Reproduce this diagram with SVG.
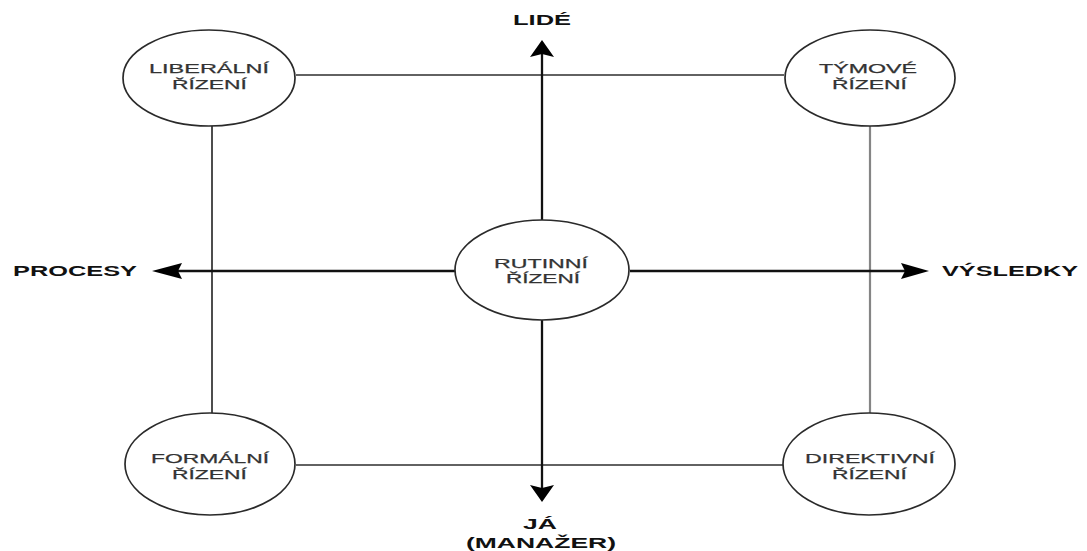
<svg xmlns="http://www.w3.org/2000/svg" width="1087" height="551" viewBox="0 0 1087 551">
  <style>
    .node ellipse { fill: #ffffff; stroke: #2a2a2a; stroke-width: 1.7; }
    .node text { font-family: "Liberation Sans", Arial, sans-serif; font-size: 13.5px; fill: #333333; stroke: #333333; stroke-width: 0.25; text-anchor: middle; }
    .link { fill: none; stroke: #2e2e2e; stroke-width: 1.7; }
    .link.light { stroke: #858585; stroke-width: 2.2; }
    .axis { fill: none; stroke: #111111; stroke-width: 2.3; }
    .head { fill: #000000; }
    .label { font-family: "Liberation Sans", Arial, sans-serif; font-size: 14px; font-weight: bold; fill: #111111; text-anchor: middle; }
  </style>

  <!-- connectors: square frame between the four outer styles, plus the two axes -->
  <g id="connectors">
    <line class="link" x1="296" y1="75" x2="784" y2="75"/>
    <line class="link" x1="296" y1="465" x2="784" y2="465"/>
    <line class="link" x1="212" y1="126" x2="212" y2="413"/>
    <line class="link light" x1="870" y1="126" x2="870" y2="414"/>

    <!-- vertical axis: LIDÉ / JÁ (MANAŽER) -->
    <line class="axis" x1="542" y1="54" x2="542" y2="220"/>
    <polygon class="head" points="542,40 530,57 542,54 554,57"/>
    <line class="axis" x1="542" y1="320" x2="542" y2="488"/>
    <polygon class="head" points="542,502 530,485 542,488 554,485"/>

    <!-- horizontal axis: PROCESY / VÝSLEDKY -->
    <line class="axis" x1="178" y1="271" x2="455" y2="271"/>
    <polygon class="head" points="152,271 182,263 178,271 182,279"/>
    <line class="axis" x1="630" y1="271" x2="905" y2="271"/>
    <polygon class="head" points="929,271 901,263 905,271 901,279"/>
  </g>

  <g id="liberalni" class="node">
    <ellipse cx="209" cy="78" rx="86" ry="48"/>
    <text x="209" y="73" textLength="120" lengthAdjust="spacingAndGlyphs">LIBERÁLNÍ</text>
    <text x="209.5" y="89" textLength="75" lengthAdjust="spacingAndGlyphs">ŘÍZENÍ</text>
  </g>

  <g id="tymove" class="node">
    <ellipse cx="870" cy="78" rx="85" ry="48"/>
    <text x="868" y="73" textLength="98" lengthAdjust="spacingAndGlyphs">TÝMOVÉ</text>
    <text x="869.5" y="89" textLength="75" lengthAdjust="spacingAndGlyphs">ŘÍZENÍ</text>
  </g>

  <g id="rutinni" class="node">
    <ellipse cx="542" cy="270" rx="87" ry="50"/>
    <text x="541" y="268" textLength="94" lengthAdjust="spacingAndGlyphs">RUTINNÍ</text>
    <text x="543" y="283" textLength="74" lengthAdjust="spacingAndGlyphs">ŘÍZENÍ</text>
  </g>

  <g id="formalni" class="node">
    <ellipse cx="210" cy="464" rx="85" ry="51"/>
    <text x="210" y="463" textLength="118" lengthAdjust="spacingAndGlyphs">FORMÁLNÍ</text>
    <text x="209.5" y="479" textLength="75" lengthAdjust="spacingAndGlyphs">ŘÍZENÍ</text>
  </g>

  <g id="direktivni" class="node">
    <ellipse cx="869" cy="464" rx="86" ry="51"/>
    <text x="870" y="463" textLength="130" lengthAdjust="spacingAndGlyphs">DIREKTIVNÍ</text>
    <text x="869.5" y="479" textLength="75" lengthAdjust="spacingAndGlyphs">ŘÍZENÍ</text>
  </g>

  <!-- axis end labels -->
  <g id="lide">
    <text class="label" x="542" y="25" textLength="58" lengthAdjust="spacingAndGlyphs">LIDÉ</text>
  </g>
  <g id="procesy">
    <text class="label" x="75" y="276" textLength="124" lengthAdjust="spacingAndGlyphs">PROCESY</text>
  </g>
  <g id="vysledky">
    <text class="label" x="1010" y="276" textLength="136" lengthAdjust="spacingAndGlyphs">VÝSLEDKY</text>
  </g>
  <g id="ja-manazer">
    <text class="label" x="540" y="529" textLength="34" lengthAdjust="spacingAndGlyphs">JÁ</text>
    <text class="label" x="541" y="548" textLength="150" lengthAdjust="spacingAndGlyphs">(MANAŽER)</text>
  </g>
</svg>
